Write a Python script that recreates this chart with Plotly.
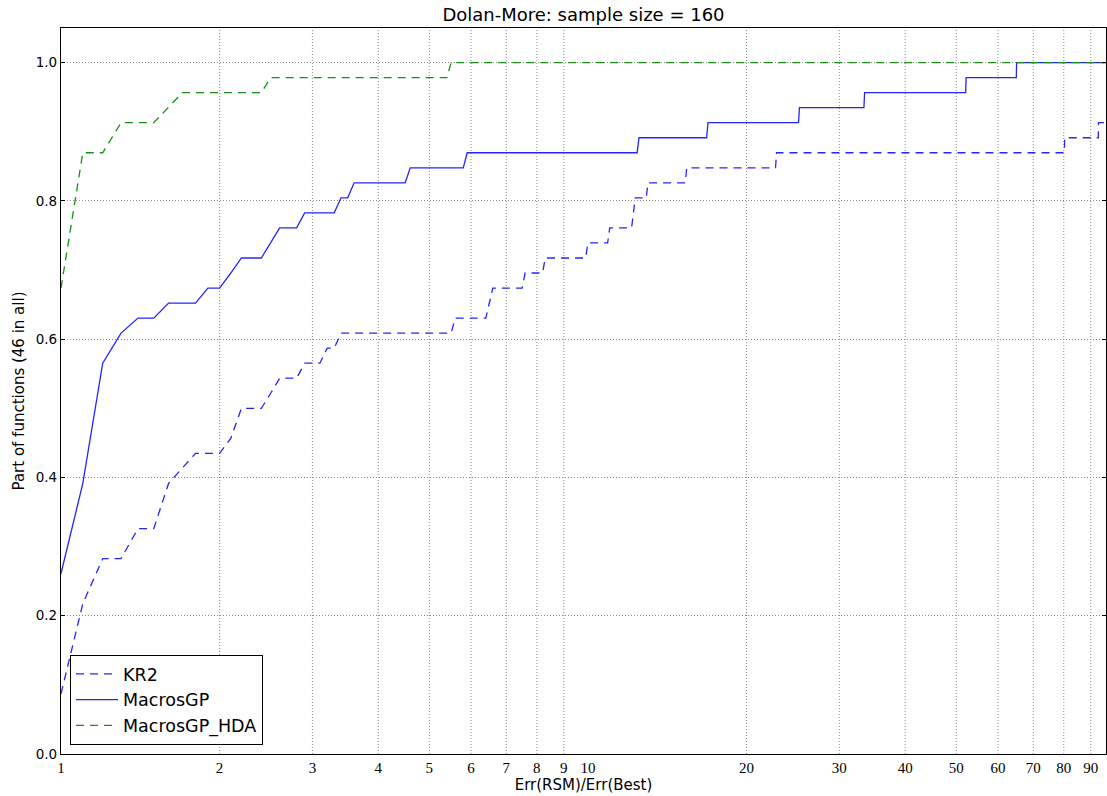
import numpy as np
import plotly.graph_objects as go

n_functions = 46

kr2_tau = [1.0, 1.1, 1.2, 1.3, 1.4, 1.5, 1.6, 1.7, 1.8, 2.0,
           2.1, 2.2, 2.4, 2.5, 2.6, 2.8, 2.9, 3.1, 3.2, 3.3,
           3.4, 5.5, 5.6, 6.4, 6.5, 6.6, 7.5, 7.6, 8.2, 8.3,
           9.9, 10.0, 10.9, 11.0, 12.1, 12.2, 12.3, 12.9, 13.0, 15.3,
           15.4, 22.7, 22.8, 80.2, 80.3, 93.0, 93.1, 96.2]
kr2_count = [4, 10, 13, 13, 15, 15, 18, 19, 20, 20,
             21, 23, 23, 24, 25, 25, 26, 26, 27, 27,
             28, 28, 29, 29, 30, 31, 31, 32, 32, 33,
             33, 34, 34, 35, 35, 36, 37, 37, 38, 38,
             39, 39, 40, 40, 41, 41, 42, 42]

gp_tau = [1.0, 1.1, 1.2, 1.3, 1.4, 1.5, 1.6, 1.8, 1.9, 2.0,
          2.1, 2.2, 2.4, 2.5, 2.6, 2.8, 2.9, 3.3, 3.4, 3.5,
          3.6, 4.5, 4.6, 5.8, 5.9, 12.4, 12.5, 16.8, 16.9, 25.1,
          25.2, 33.4, 33.5, 52.1, 52.2, 65.0, 65.1, 96.2]
gp_count = [12, 18, 26, 28, 29, 29, 30, 30, 31, 31,
            32, 33, 33, 34, 35, 35, 36, 36, 37, 37,
            38, 38, 39, 39, 40, 40, 41, 41, 42, 42,
            43, 43, 44, 44, 45, 45, 46, 46]

hda_tau = [1.0, 1.1, 1.2, 1.3, 1.5, 1.6, 1.7, 2.4, 2.5, 5.4, 5.5, 96.2]
hda_count = [31, 40, 40, 42, 42, 43, 44, 44, 45, 45, 46, 46]

x_tick_vals = [1, 2, 3, 4, 5, 6, 7, 8, 9, 10, 20, 30, 40, 50, 60, 70, 80, 90]
x_grid_vals = [2, 3, 4, 5, 6, 7, 8, 9, 20, 30, 40, 50, 60, 70, 80, 90]
y_tick_vals = [0.0, 0.2, 0.4, 0.6, 0.8, 1.0]
y_tick_text = ["0.0", "0.2", "0.4", "0.6", "0.8", "1.0"]
x_max = 96.2
y_max = 1.05

BLUE = "#2424ff"
GREEN = "#169016"
DASH = "8px,6px"
GRID = "#8a8a8a"

fig = go.Figure()
series = [
    ("KR2", kr2_tau, kr2_count, BLUE, DASH),
    ("MacrosGP", gp_tau, gp_count, BLUE, "solid"),
    ("MacrosGP_HDA", hda_tau, hda_count, GREEN, DASH),
]
for name, tau, cnt, col, dash in series:
    fig.add_trace(go.Scatter(
        x=tau, y=np.array(cnt) / n_functions, mode="lines", name=name,
        line=dict(color=col, width=1.3, dash=dash),
    ))

# vertical dotted grid lines at the minor tick values (no line at 1 or 10)
for v in x_grid_vals:
    fig.add_shape(type="line", xref="x", yref="paper", x0=v, x1=v, y0=0, y1=1,
                  layer="below", line=dict(color=GRID, width=1, dash="1px,2px"))

fig.update_layout(
    width=1107, height=796, autosize=False,
    margin=dict(l=61, r=1, t=28, b=42),
    paper_bgcolor="white", plot_bgcolor="white",
    font=dict(family="DejaVu Sans", color="black"),
    title=dict(text="Dolan-More: sample size = 160", x=0.5, xref="paper",
               y=1 - 15 / 796, yref="container", xanchor="center", yanchor="middle",
               font=dict(size=18, family="DejaVu Sans", color="black")),
    xaxis=dict(
        type="log", range=[np.log10(x_tick_vals[0]), np.log10(x_max)],
        tickmode="array", tickvals=x_tick_vals, ticktext=[str(v) for v in x_tick_vals],
        tickfont=dict(family="Liberation Serif", size=15, color="black"),
        showgrid=False, zeroline=False, ticks="", automargin=False,
        showline=True, linecolor="black", linewidth=1.3, mirror=True,
        title=dict(text="Err(RSM)/Err(Best)", font=dict(size=15, family="DejaVu Sans"), standoff=3),
    ),
    yaxis=dict(
        range=[0, y_max], tickmode="array", tickvals=y_tick_vals, ticktext=y_tick_text,
        tickfont=dict(family="DejaVu Sans", size=13.5, color="black"),
        showgrid=True, gridcolor=GRID, griddash="1px,2px", gridwidth=1,
        zeroline=False, ticks="inside", ticklen=4, tickcolor="black", automargin=False,
        showline=True, linecolor="black", linewidth=1.3, mirror="ticks",
        title=dict(text="Part of functions (46 in all)", font=dict(size=15, family="DejaVu Sans"), standoff=7),
    ),
    legend=dict(
        x=(70 - 61) / 1045.7, y=(754 - 745) / 726, xanchor="left", yanchor="bottom",
        bgcolor="white", bordercolor="black", borderwidth=1,
        font=dict(size=17.5, family="DejaVu Sans", color="black"),
        itemwidth=42,
    ),
)

fig.write_html("out.html", config={"displayModeBar": False},
               post_script="document.body.style.margin='0px';")
